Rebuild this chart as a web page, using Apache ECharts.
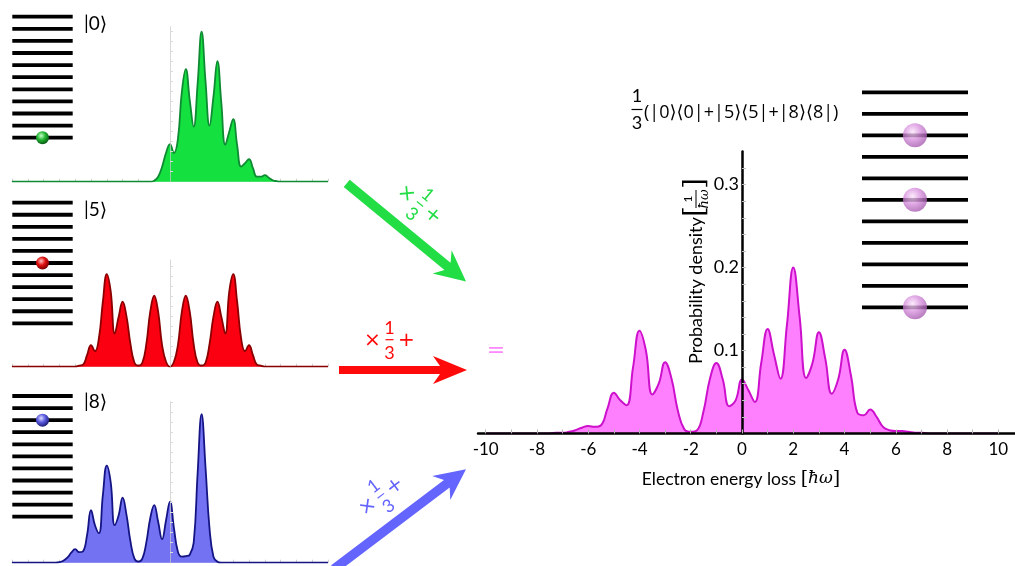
<!DOCTYPE html>
<html><head><meta charset="utf-8">
<script src="https://cdn.jsdelivr.net/npm/echarts@6/dist/echarts.min.js"></script>
<style>html,body{margin:0;padding:0;background:#fff}#c{width:1015px;height:566px}</style>
</head><body><div id="c"></div>
<script>
// ---------- data ----------
const energyLoss = [-10,-7.5,-7.25,-7,-6.75,-6.5,-6.25,-6,-5.75,-5.5,-5.25,-5,-4.75,-4.5,-4.25,-4,-3.75,-3.5,-3.25,-3,-2.75,-2.5,-2.25,-2,-1.75,-1.5,-1.25,-1,-0.75,-0.5,-0.25,0,0.25,0.5,0.75,1,1.25,1.5,1.75,2,2.25,2.5,2.75,3,3.25,3.5,3.75,4,4.25,4.5,4.75,5,5.25,5.5,5.75,6,6.25,6.5,6.75,7,7.25,7.5,10];
const stateN0 = [0,0,0,0,0,0,0,0,0,0, 0,0,0,0,0,0,0,0,0,0, 0,0,0,0,0,0,0,
  0.002,0.01,0.03,0.058,0.075,0.057,0.085,0.18,0.225,0.163,0.11,0.197,0.3,0.2,0.112,0.17,0.241,0.157,0.074,0.1,0.125,0.073,0.03,0.037,0.045,0.027,0.01,0.01,0.013,0.008,0.003,0.001,
  0,0,0,0];
const stateN5 = [0, 0,0,0,0,0,0,0,
  0.002,0.004,0.023,0.043,0.031,0.057,0.13,0.185,0.15,0.066,0.1,0.13,0.1,0.045,0.008,0.002,0.008,0.045,0.11,0.142,0.11,0.043,0.01,
  0,
  0.01,0.043,0.11,0.142,0.11,0.045,0.008,0.002,0.008,0.045,0.1,0.13,0.1,0.066,0.15,0.185,0.13,0.057,0.031,0.043,0.023,0.004,0.002,
  0,0,0,0,0,0,0, 0];
const stateN8 = [0,0,0,0.001,0.004,0.01,0.02,0.027,0.021,0.023,0.055,0.105,0.075,0.059,0.135,0.194,0.16,0.075,0.095,0.13,0.095,0.042,0.008,0.002,0.008,0.04,0.089,0.115,0.082,0.047,0.085,0.122,0.069,0.022,0.012,0.013,0.016,0.04,0.18,0.297,0.19,0.069,0.012,0.002,
  0,0,0,0,0,0,0,0,0,0,0,0,0,0,0,0,0,0, 0];
const mixedState = [0,0,0.001,0.001,0.002,0.004,0.007,0.009,0.008,0.01,0.03,0.049,0.04,0.034,0.08,0.124,0.1,0.047,0.06,0.086,0.066,0.027,0.005,0.002,0.004,0.027,0.066,0.085,0.065,0.033,0.04,0.065,0.052,0.038,0.085,0.126,0.095,0.066,0.13,0.2,0.14,0.067,0.085,0.122,0.09,0.048,0.065,0.101,0.07,0.025,0.022,0.029,0.02,0.008,0.004,0.003,0.003,0.002,0.001,0.001,0,0,0];

const xTickValues = [-10,-9,-8,-7,-6,-5,-4,-3,-2,-1,0,1,2,3,4,5,6,7,8,9,10];
const xLabelValues = [-10,-8,-6,-4,-2,0,2,4,6,8,10];
const yLabelValues = [0.1,0.2,0.3];
const yTickValues = [0.02,0.04,0.06,0.08,0.1,0.12,0.14,0.16,0.18,0.2,0.22,0.24,0.26,0.28,0.3,0.32];
const levels = [0,1,2,3,4,5,6,7,8,9,10];
const occupiedN0 = [0];
const occupiedN5 = [5];
const occupiedN8 = [8];
const occupiedMix = [0,5,8];
const stateLabels = ['|0\u27E9','|5\u27E9','|8\u27E9'];
const mixTitle = '(|0\u27E9\u27E80|+|5\u27E9\u27E85|+|8\u27E9\u27E88|)';
const xName = 'Electron energy loss ';
const yName = 'Probability density';

// ---------- helpers ----------
const FONT = 'Lato, "DejaVu Sans", sans-serif';
const pairs = ys => energyLoss.map((x, i) => [x, ys[i]]);

const grids = [
  {left: 478, top: 151.5, width: 537, height: 282},     // 0 main
  {left: 12, top: 26.7, width: 316, height: 155},       // 1 green
  {left: 12, top: 260, width: 316, height: 106.7},      // 2 red
  {left: 12, top: 401.7, width: 316, height: 161},      // 3 blue
  {left: 12.3, top: 16.7, width: 60.4, height: 121},    // 4 levels |0>
  {left: 12.3, top: 202.7, width: 60.4, height: 120.6}, // 5 levels |5>
  {left: 12.3, top: 396, width: 60.4, height: 120.7},   // 6 levels |8>
  {left: 862, top: 92.3, width: 106, height: 215}       // 7 levels mix
].map(g => Object.assign({outerBoundsMode: 'none', containLabel: false}, g));

const xAxes = [
  {gridIndex: 0, type: 'value', min: -10.3, max: 10.65, z: 5,
   axisLine: {show: true, onZero: false, lineStyle: {color: '#000', width: 2.5}},
   axisTick: {show: true, customValues: xTickValues, inside: true, length: 4, lineStyle: {color: '#b5b5b5'}},
   axisLabel: {show: true, customValues: xLabelValues, fontSize: 17, color: '#000', margin: 8, fontFamily: FONT},
   splitLine: {show: false}}
];
const yAxes = [
  {gridIndex: 0, type: 'value', min: 0, max: 0.34, z: 5, position: 'left', offset: -264,
   axisLine: {show: true, onZero: false, lineStyle: {color: '#000', width: 2.5}},
   axisTick: {show: true, customValues: yTickValues, inside: true, length: 4, lineStyle: {color: '#c0c0c0'}},
   axisLabel: {show: true, customValues: yLabelValues, fontSize: 18, color: '#000', margin: 3, fontFamily: FONT},
   splitLine: {show: false}}
];
const panelMax = [0.31, 0.2134, 0.322];
[1, 2, 3].forEach((gi, k) => {
  xAxes.push({gridIndex: gi, type: 'value', min: -10, max: 10, z: 1,
    axisLine: {show: true, onZero: false, lineStyle: {color: '#e0e0e0', width: 1}},
    axisTick: {show: true, customValues: xTickValues, inside: true, length: 3, lineStyle: {color: '#d0d0d0'}},
    axisLabel: {show: false}, splitLine: {show: false}});
  yAxes.push({gridIndex: gi, type: 'value', min: 0, max: panelMax[k], z: 3, position: 'left', offset: -158,
    axisLine: {show: true, onZero: false, lineStyle: {color: 'rgba(200,200,200,0.7)', width: 1}},
    axisTick: {show: true, customValues: yTickValues, inside: true, length: 3, lineStyle: {color: '#dcdcdc'}},
    axisLabel: {show: false}, splitLine: {show: false}});
});
[4, 5, 6, 7].forEach(gi => {
  xAxes.push({gridIndex: gi, type: 'value', min: 0, max: 1, show: false});
  yAxes.push({gridIndex: gi, type: 'value', min: 0, max: 10, show: false});
});

function areaSeries(idx, ys, line, fill, w) {
  return {type: 'line', xAxisIndex: idx, yAxisIndex: idx, data: pairs(ys), smooth: 0.45,
    showSymbol: false, silent: true, animation: false, z: 2,
    lineStyle: {color: line, width: w}, areaStyle: {color: fill, opacity: 1}};
}
function levelSeries(idx, lw) {
  return {type: 'custom', xAxisIndex: idx, yAxisIndex: idx, silent: true, animation: false, z: 3,
    data: levels.map(k => [0, k]),
    renderItem: (p, api) => {
      const k = api.value(1);
      const a = api.coord([0, k]), b = api.coord([1, k]);
      return {type: 'line', shape: {x1: a[0], y1: a[1], x2: b[0], y2: b[1]},
        style: {stroke: '#000', lineWidth: lw, lineCap: 'butt'}};
    }};
}
function ballSeries(idx, occ, size, stops, opacity) {
  return {type: 'scatter', xAxisIndex: idx, yAxisIndex: idx, silent: true, animation: false, z: 4,
    data: occ.map(k => [0.5, k]), symbol: 'circle', symbolSize: size,
    itemStyle: {opacity: opacity, color: {type: 'radial', x: 0.4, y: 0.35, r: 0.65,
      colorStops: stops.map((c, i) => ({offset: i / (stops.length - 1), color: c}))}}};
}

const series = [
  areaSeries(0, mixedState, '#cc10cc', '#ff80ff', 2),
  areaSeries(1, stateN0, '#0e8a32', '#14e040', 1.8),
  areaSeries(2, stateN5, '#8a0000', '#fa0010', 1.8),
  areaSeries(3, stateN8, '#141484', '#7272f2', 1.8),
  levelSeries(4, 3.8), levelSeries(5, 3.8), levelSeries(6, 3.8), levelSeries(7, 3.8),
  ballSeries(4, occupiedN0, 13, ['#c8ffc8', '#22b533', '#0a5c16'], 1),
  ballSeries(5, occupiedN5, 13, ['#ffc0c0', '#e01010', '#7a0000'], 1),
  ballSeries(6, occupiedN8, 13, ['#dcdcff', '#5a5ae0', '#20207a'], 1),
  ballSeries(7, occupiedMix, 24, ['#fbe6fb', '#d890de', '#a55aae'], 0.78)
];

// ---------- annotations ----------
function arrow(x, y, len, rot, color, shaftW, headLen, headHalf) {
  const b = len - headLen;
  return {type: 'group', x: x, y: y, rotation: rot, silent: true, children: [
    {type: 'polygon', shape: {points: [[0, -shaftW / 2], [b + 7, -shaftW / 2], [b, -headHalf], [len, 0],
      [b, headHalf], [b + 7, shaftW / 2], [0, shaftW / 2]]}, style: {fill: color}}]};
}
function fracLabel(x, y, rot, color) {
  const st = (t, f) => ({text: t, fill: color, font: f, align: 'center', verticalAlign: 'middle'});
  const SYM = '20px "DejaVu Sans", sans-serif';
  const DIG = '18px ' + FONT;
  return {type: 'group', x: x, y: y, rotation: rot, silent: true, children: [
    {type: 'text', x: -17, y: 1, style: st('\u00D7', SYM)},
    {type: 'text', x: 0, y: -12, style: st('1', DIG)},
    {type: 'line', shape: {x1: -4, y1: 0, x2: 4, y2: 0}, style: {stroke: color, lineWidth: 1.2}},
    {type: 'text', x: 0, y: 13, style: st('3', DIG)},
    {type: 'text', x: 17, y: 1, style: st('+', SYM)}]};
}
function txt(x, y, t, size, color, align, fam) {
  return {type: 'text', x: x, y: y, silent: true,
    style: {text: t, fill: color || '#000', font: size + 'px ' + (fam || FONT), align: align || 'left', verticalAlign: 'middle'}};
}

const graphic = [
  txt(84, 24, stateLabels[0], 19),
  txt(84, 209.5, stateLabels[1], 19),
  txt(84, 402, stateLabels[2], 19),
  arrow(346.7, 183.3, 154.6, -0.689, '#22dd44', 9.5, 31, 15),
  arrow(339, 370, 128, 0, '#ff0a0a', 8, 34, 14),
  arrow(334, 569, 165.4, 0.647, '#6464ff', 9.5, 31, 15),
  fracLabel(420, 204, -0.689, '#22dd44'),
  fracLabel(389.5, 339.7, 0, '#ff0a0a'),
  fracLabel(380.8, 495.8, 0.647, '#6464ff'),
  txt(496, 351, '=', 22, '#ff88ff', 'center', '"DejaVu Sans", sans-serif'),
  // title fraction
  txt(637, 96.5, '1', 18, '#000', 'center'),
  {type: 'line', silent: true, shape: {x1: 631.5, y1: 109.5, x2: 642.5, y2: 109.5}, style: {stroke: '#000', lineWidth: 1.2}},
  txt(637, 123, '3', 18, '#000', 'center'),
  txt(644, 113, mixTitle, 18, '#000', 'left', '"Open Sans", "DejaVu Sans", sans-serif'),
  // x axis name
  {type: 'text', x: 741, y: 479, silent: true, style: {
    text: '{a|' + xName + '}{b|[}{c|\u0127\u03C9}{b|]}', align: 'center', verticalAlign: 'middle',
    rich: {a: {fontSize: 17.5, fontFamily: FONT, fill: '#000'},
           b: {fontSize: 19, fontFamily: '"DejaVu Serif", serif', fill: '#000'},
           c: {fontSize: 17, fontStyle: 'italic', fontFamily: '"DejaVu Serif", serif', fill: '#000'}}}},
  // y axis name (rotated)
  {type: 'group', x: 696, y: 364, rotation: Math.PI / 2, silent: true, children: [
    {type: 'text', x: 0, y: 0, style: {text: yName, fill: '#000', font: '18px ' + FONT, align: 'left', verticalAlign: 'middle'}},
    {type: 'text', x: 147, y: 0, style: {text: '[', fill: '#000', font: '28px "DejaVu Serif", serif', align: 'left', verticalAlign: 'middle'}},
    {type: 'text', x: 165, y: -8, style: {text: '1', fill: '#000', font: '12px ' + FONT, align: 'center', verticalAlign: 'middle'}},
    {type: 'line', shape: {x1: 156, y1: 0, x2: 174, y2: 0}, style: {stroke: '#000', lineWidth: 1}},
    {type: 'text', x: 165, y: 9, style: {text: '\u0127\u03C9', fill: '#000', font: 'italic 13px "DejaVu Serif", serif', align: 'center', verticalAlign: 'middle'}},
    {type: 'text', x: 175, y: 0, style: {text: ']', fill: '#000', font: '28px "DejaVu Serif", serif', align: 'left', verticalAlign: 'middle'}}]}
];

const chart = echarts.init(document.getElementById('c'), null, {renderer: 'canvas'});
chart.setOption({
  backgroundColor: '#fff', animation: false,
  grid: grids, xAxis: xAxes, yAxis: yAxes, series: series, graphic: graphic
});
</script></body></html>
